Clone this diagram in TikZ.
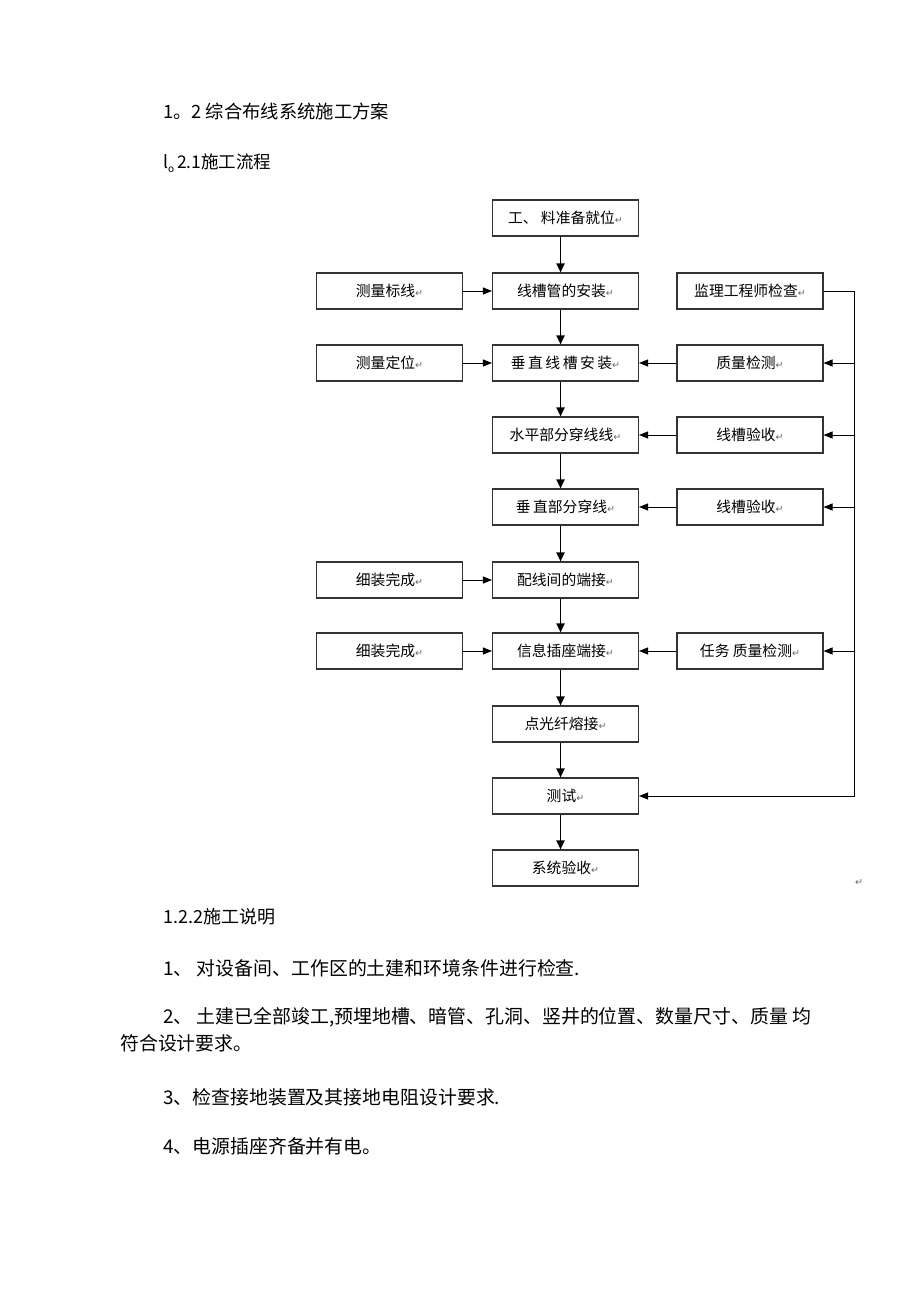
\documentclass[tikz,border=0pt]{standalone}
\usepackage{fontspec}
\setmainfont{Noto Sans CJK SC}
\newfontfamily\symfont{DejaVu Sans}
\usetikzlibrary{arrows.meta}
\definecolor{boxline}{gray}{0.2}
\definecolor{retgray}{gray}{0.4}
\newcommand{\rmark}{{\symfont\fontsize{9.5}{9.5}\selectfont\color{retgray}↵}}
\begin{document}
\begin{tikzpicture}[x=1pt,y=-1pt,
  box/.style={draw=boxline, line width=1.1pt, minimum width=146pt, minimum height=36pt, inner sep=0pt, font=\fontsize{14.8}{16}\selectfont},
  txt/.style={anchor=west, inner sep=0pt, font=\fontsize{18.9}{20}\selectfont},
  flow/.style={line width=1.8pt, -{Triangle[length=9pt,width=8pt]}},
  side/.style={line width=1pt, -{Triangle[length=9pt,width=7pt]}},
]
\useasboundingbox[fill=white] (0,0) rectangle (920,1302);

% headings and text
\node[txt, font=\fontsize{18.3}{20}\selectfont] (h1) at (163,112) {1。2 综合布线系统施工方案};
\node[txt, font=\fontsize{17.5}{20}\selectfont] (h2) at (163,163) {l\raisebox{-4pt}{\fontsize{10}{10}\selectfont o}\,2.1施工流程};
\node[txt, font=\fontsize{18}{20}\selectfont] (h3) at (163,917) {1.2.2施工说明};
\node[txt] (p1) at (163,968) {1、 对设备间、工作区的土建和环境条件进行检查.};
\node[txt] (p2) at (163,1017) {2、 土建已全部竣工,预埋地槽、暗管、孔洞、竖井的位置、数量尺寸、质量 均};
\node[txt] (p2b) at (120,1043) {符合设计要求。};
\node[txt] (p3) at (163,1097) {3、检查接地装置及其接地电阻设计要求.};
\node[txt] (p4) at (163,1146) {4、电源插座齐备并有电。};
\node[inner sep=0pt] (endmark) at (859,883) {\rmark};

% center column
\node[box] (c1) at (565.5,218) {工、 料准备就位\rmark};
\node[box] (c2) at (565.5,291) {线槽管的安装\rmark};
\node[box] (c3) at (565.5,363) {垂\,直\,线\,槽\,安\,装\rmark};
\node[box] (c4) at (565.5,435) {水平部分穿线线\rmark};
\node[box] (c5) at (565.5,507) {垂\,直部分穿线\rmark};
\node[box] (c6) at (565.5,580) {配线间的端接\rmark};
\node[box] (c7) at (565.5,651) {信息插座端接\rmark};
\node[box] (c8) at (565.5,724) {点光纤熔接\rmark};
\node[box] (c9) at (565.5,796) {测试\rmark};
\node[box] (c10) at (565.5,868) {系统验收\rmark};

% left column
\node[box] (l2) at (389.5,291) {测量标线\rmark};
\node[box] (l3) at (389.5,363) {测量定位\rmark};
\node[box] (l6) at (389.5,580) {细装完成\rmark};
\node[box] (l7) at (389.5,651) {细装完成\rmark};

% right column
\node[box] (r2) at (750,291) {监理工程师检查\rmark};
\node[box] (r3) at (750,363) {质量检测\rmark};
\node[box] (r4) at (750,435) {线槽验收\rmark};
\node[box] (r5) at (750,507) {线槽验收\rmark};
\node[box] (r7) at (750,651) {任务 质量检测\rmark};

% vertical flow
\foreach \a/\b in {c1/c2,c2/c3,c3/c4,c4/c5,c5/c6,c6/c7,c7/c8,c8/c9,c9/c10}
  \draw[flow] ([xshift=-5pt]\a.south) -- ([xshift=-5pt]\b.north);

% left inputs
\foreach \a/\b in {l2/c2,l3/c3,l6/c6,l7/c7}
  \draw[side] (\a) -- (\b);

% right inputs
\foreach \a/\b in {r3/c3,r4/c4,r5/c5,r7/c7}
  \draw[side] (\a) -- (\b);

% bus
\coordinate (btop) at (854,291);
\coordinate (bbot) at (854,796);
\draw[side] (r2.east) -- (btop) -- (bbot) -- (c9.east);
\foreach \r in {r3,r4,r5,r7}
  \draw[side] (btop |- \r.east) -- (\r.east);
\end{tikzpicture}
\end{document}
